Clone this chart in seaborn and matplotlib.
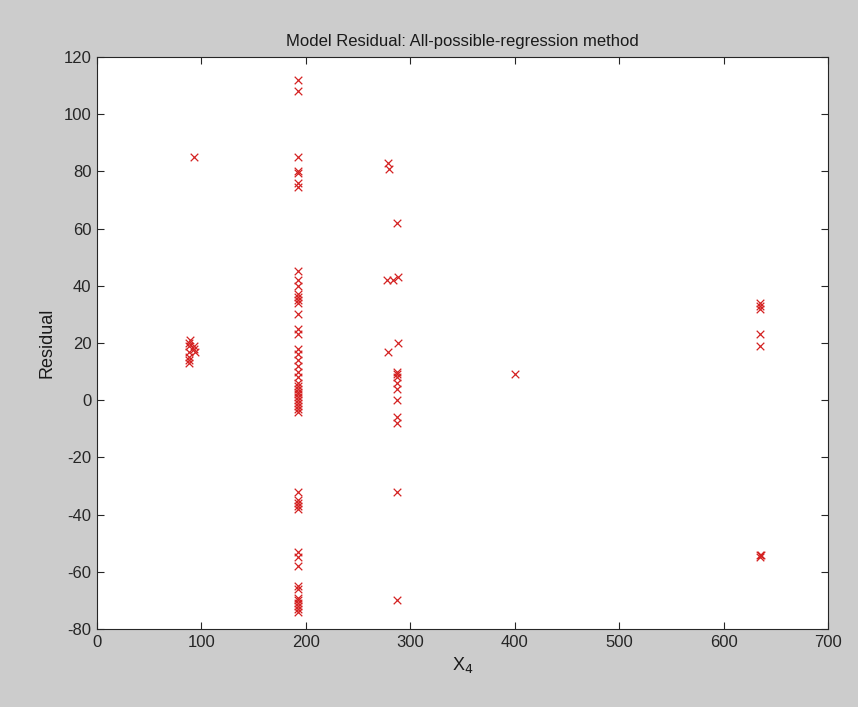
import matplotlib
matplotlib.use("Agg")
import matplotlib.pyplot as plt
import seaborn as sns
import pandas as pd

# Data
x_left = [88, 88, 89, 88, 88, 88, 88, 93, 93, 94, 93]
y_left = [20, 19, 21, 17, 15, 14, 13, 19, 18, 17, 85]

x_mid = [192] * 50
y_mid = [112, 108, 85, 80, 79.5, 76, 74.5, 45, 42, 40, 37, 36, 35, 34, 30, 25, 23,
         18, 16, 14, 12, 10, 8, 6, 5, 4, 3, 2, 1, 0, -1, -2, -3, -4,
         -32, -35, -36, -37, -38, -53, -55, -58, -65, -66, -69, -70, -71, -72, -73, -74]

x_col3 = [279, 280, 278, 283, 288, 287, 279, 288, 287, 287, 287, 287, 287, 287, 287, 287, 287, 287]
y_col3 = [83, 81, 42, 42, 43, 62, 17, 20, 10, 9, 8, 6, 4, 0, -6, -8, -32, -70]

x_single = [400]
y_single = [9]

x_right = [635, 635, 635, 635, 635, 635, 635, 636]
y_right = [34, 33, 32, 23, 19, -54, -55, -54]

xs = x_left + x_mid + x_col3 + x_single + x_right
ys = y_left + y_mid + y_col3 + y_single + y_right
df = pd.DataFrame({"X4": xs, "Residual": ys})

sns.set_theme(style="white")
plt.rcParams['font.family'] = ['Liberation Sans', 'DejaVu Sans']
plt.rcParams['axes.unicode_minus'] = False

fig = plt.figure(figsize=(8.58, 7.07), dpi=100, facecolor="#cccccc")
ax = fig.add_axes([97/858, 1 - 629/707, (828-97)/858, (629-57)/707])
ax.set_facecolor("white")

sns.scatterplot(data=df, x="X4", y="Residual", marker="x", color="#d42222",
                s=30, linewidth=0.9, ax=ax, legend=False)

ax.set_xlim(0, 700)
ax.set_ylim(-80, 120)
ax.set_xticks(range(0, 701, 100))
ax.set_yticks(range(-80, 121, 20))
ax.tick_params(direction="in", length=5, width=0.8, colors="#262626",
               labelsize=12, top=True, right=True, bottom=True, left=True,
               labeltop=False, labelright=False, pad=4)
for sp in ax.spines.values():
    sp.set_visible(True)
    sp.set_color("#262626")
    sp.set_linewidth(0.8)

ax.set_title("Model Residual: All-possible-regression method", fontsize=12,
             color="#1a1a1a", pad=8)
ax.set_xlabel("X$_4$", fontsize=13, color="#1a1a1a", labelpad=4)
ax.set_ylabel("Residual", fontsize=13, color="#1a1a1a", labelpad=6)

fig.savefig("out.png", dpi=100, facecolor=fig.get_facecolor())
